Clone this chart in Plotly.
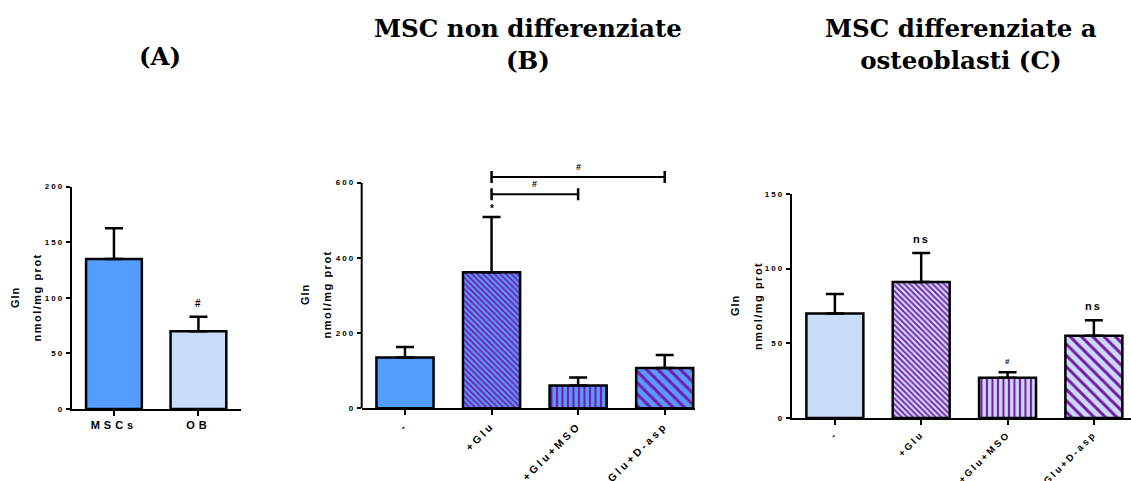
import plotly.graph_objects as go

# ---- data ----
cats_a = ["MSCs", "OB"]
mean_a = [135, 70]
sd_a = [27.5, 13]

cats_b = ["-", "+Glu", "+Glu+MSO", "+Glu+D-asp"]
mean_b = [135, 362, 61, 107]
sd_b = [28, 147, 21, 35]

cats_c = ["-", "+Glu", "+Glu+MSO", "+Glu+D-asp"]
mean_c = [70, 91, 27, 55]
sd_c = [13, 19.5, 3.6, 10.5]

BLUE = "#529dff"
LIGHT = "#c7ddf7"
PURPLE = "#7d16a6"

SANS = "Liberation Sans, Arial, sans-serif"
SERIF = "DejaVu Serif, serif"


def spaced(t, px=1.5):
    return f'<span style="letter-spacing:{px}px">{t}</span>'


def bar(x, y, err, xa, ya, color, pattern=None):
    marker = dict(color=color, line=dict(color="black", width=2.5))
    if pattern is not None:
        marker["pattern"] = pattern
    return go.Bar(
        x=x, y=y, xaxis=xa, yaxis=ya, width=0.66, marker=marker,
        error_y=dict(type="data", symmetric=False, array=err,
                     arrayminus=[0] * len(err), color="black",
                     thickness=2.5, width=9),
        showlegend=False,
    )


def hatch():
    # solid first bar, fine diagonal, vertical stripes, coarse diagonal
    return dict(shape=["", "\\", "|", "\\"], size=[4, 4, 5.5, 8],
                solidity=[0.3, 0.45, 0.38, 0.36], fgcolor=PURPLE,
                fillmode="overlay", fgopacity=1)


fig = go.Figure()
fig.add_trace(bar(cats_a, mean_a, sd_a, "x", "y", [BLUE, LIGHT]))
fig.add_trace(bar(cats_b, mean_b, sd_b, "x2", "y2", BLUE, hatch()))
fig.add_trace(bar(cats_c, mean_c, sd_c, "x3", "y3", LIGHT, hatch()))

tickfont = dict(family=SANS, size=8, color="black", weight="bold")
catfont = dict(family=SANS, size=11, color="black", weight="bold")
catfont_b = dict(family=SANS, size=10.5, color="black", weight="bold")
catfont_c = dict(family=SANS, size=9.5, color="black", weight="bold")

xcommon = dict(type="category", showline=True, linecolor="black", linewidth=2,
               ticks="outside", ticklen=5, tickwidth=1.5, tickcolor="black",
               showgrid=False, zeroline=False, automargin=False)
ycommon = dict(showline=True, linecolor="black", linewidth=2, ticks="outside",
               ticklen=4, tickwidth=1.5, tickcolor="black", tickfont=tickfont,
               showgrid=False, zeroline=False, automargin=False)

fig.update_layout(
    width=1131, height=481,
    margin=dict(l=0, r=0, t=0, b=0, autoexpand=False),
    plot_bgcolor="white", paper_bgcolor="white",
    bargap=0.34,
    xaxis=dict(xcommon, domain=[0.0634, 0.2128], range=[-0.5, 1.5], anchor="y",
               tickfont=catfont,
               tickvals=cats_a, ticktext=[spaced(c, 4) for c in cats_a], tickangle=0),
    yaxis=dict(ycommon, domain=[0.1497, 0.6119], range=[0, 200], anchor="x",
               tickvals=[0, 50, 100, 150, 200],
               ticktext=[spaced(str(v), 2) for v in [0, 50, 100, 150, 200]]),
    xaxis2=dict(xcommon, domain=[0.3198, 0.6145], range=[-0.5, 3.35], anchor="y2",
                tickfont=catfont_b,
                tickvals=cats_b, ticktext=[spaced(c, 3) for c in cats_b], tickangle=-45),
    yaxis2=dict(ycommon, domain=[0.1511, 0.6593], range=[0, 650], anchor="x2",
                showline=False,
                tickvals=[0, 200, 400, 600],
                ticktext=[spaced(str(v), 2) for v in [0, 200, 400, 600]]),
    xaxis3=dict(xcommon, domain=[0.7000, 1.0], range=[-0.5, 3.43], anchor="y3",
                tickfont=catfont_c,
                tickvals=cats_c, ticktext=[spaced(c, 2.5) for c in cats_c], tickangle=-45),
    yaxis3=dict(ycommon, domain=[0.131, 0.5967], range=[0, 150], anchor="x3",
                tickvals=[0, 50, 100, 150],
                ticktext=[spaced(str(v), 2) for v in [0, 50, 100, 150]]),
)

# y axis line of panel B stops at the last tick
fig.add_shape(type="line", xref="x2 domain", yref="y2", x0=0, x1=0, y0=0, y1=600,
              line=dict(color="black", width=2))

# comparison brackets in panel B
brackets = [(1, 3, 615), (1, 2, 569)]
for a, b, h in brackets:
    fig.add_shape(type="line", xref="x2", yref="y2", x0=a, x1=b, y0=h, y1=h,
                  line=dict(color="black", width=2))
    for e in (a, b):
        fig.add_shape(type="line", xref="x2", yref="y2", x0=e, x1=e,
                      y0=h - 16, y1=h + 16, line=dict(color="black", width=2.5))
    fig.add_annotation(x=(a + b) / 2, y=h, xref="x2", yref="y2", text="#",
                       showarrow=False, xanchor="center", yanchor="bottom", yshift=3,
                       font=dict(family=SANS, size=9, color="black", weight="bold"))

# significance marks above the error bars
marks = [
    ("x", "y", cats_a[1], mean_a[1] + sd_a[1], "#", 10, 6),
    ("x2", "y2", cats_b[1], mean_b[1] + sd_b[1], "*", 10, 1),
    ("x3", "y3", cats_c[1], mean_c[1] + sd_c[1], spaced("ns", 2), 11, 6),
    ("x3", "y3", cats_c[2], mean_c[2] + sd_c[2], "#", 8, 4),
    ("x3", "y3", cats_c[3], mean_c[3] + sd_c[3], spaced("ns", 2), 11, 6),
]
for xa, ya, x, y, t, s, dy in marks:
    fig.add_annotation(x=x, y=y, xref=xa, yref=ya, text=t, showarrow=False,
                       xanchor="center", yanchor="bottom", yshift=dy,
                       font=dict(family=SANS, size=s, color="black", weight="bold"))

# y axis titles
ylab = dict(family=SANS, size=11, color="black", weight="bold")
for xg, xn, yc in [(15, 36.5, 298), (305, 326.5, 295), (735, 758, 306)]:
    fig.add_annotation(x=xg / 1131, y=1 - yc / 481, xref="paper", yref="paper",
                       text=spaced("Gln", 1), textangle=-90, showarrow=False,
                       xanchor="center", yanchor="middle", font=ylab)
    fig.add_annotation(x=xn / 1131, y=1 - yc / 481, xref="paper", yref="paper",
                       text=spaced("nmol/mg prot", 1.5), textangle=-90,
                       showarrow=False, xanchor="center", yanchor="middle",
                       font=ylab)

# panel titles
tfont = dict(family=SERIF, size=24.5, color="black", weight="bold")
titles = [
    (160, 57, "(A)"),
    (528, 45, "MSC non differenziate<br>(B)"),
    (961, 45, "MSC differenziate a<br>osteoblasti (C)"),
]
for tx, ty, txt in titles:
    fig.add_annotation(x=tx / 1131, y=1 - ty / 481, xref="paper", yref="paper",
                       text=txt, showarrow=False, xanchor="center",
                       yanchor="middle", font=tfont)

fig.write_html("out.html")
